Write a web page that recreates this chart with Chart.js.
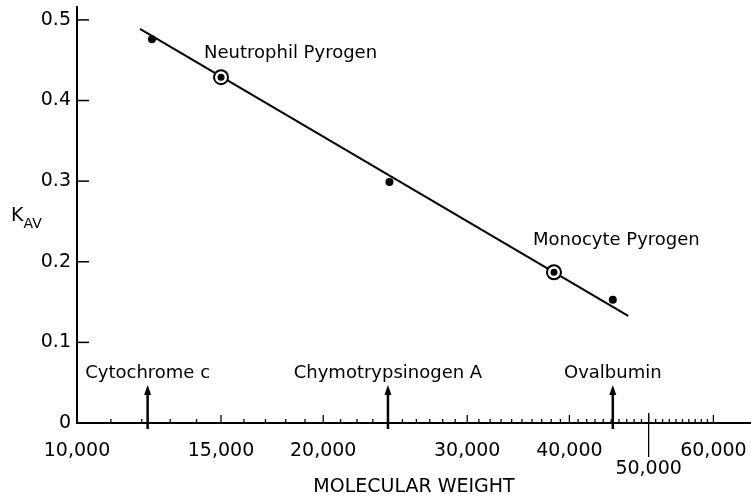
<!DOCTYPE html>
<html>
<head>
<meta charset="utf-8">
<script src="https://cdn.jsdelivr.net/npm/chart.js@4"></script>
<style>
  html, body { margin: 0; padding: 0; background: #fff; overflow: hidden; }
  #box { width: 751px; height: 498px; position: relative; }
</style>
</head>
<body>
<div id="box"><canvas id="grafico"></canvas></div>
<script>
// standards (filled dots + arrows on the axis)
const standardNames = ['Cytochrome c', 'Chymotrypsinogen A', 'Ovalbumin'];
const standardMW = [12350, 24100, 45200];
const standardKav = [0.476, 0.299, 0.153];
const arrowMW = [12200, 24000, 45200];

// pyrogens (ringed dots)
const pyrogenNames = ['Neutrophil Pyrogen', 'Monocyte Pyrogen'];
const pyrogenMW = [15000, 38300];
const pyrogenKav = [0.429, 0.187];
const pyrogenLabelMW = [14300, 36100];
const pyrogenLabelKav = [0.458, 0.227];

// fitted line end points
const fitMW = [11940, 47200];
const fitKav = [0.489, 0.133];

// axes
const xTickValues = [10000, 15000, 20000, 30000, 40000, 50000, 60000];
const xTickLabels = ['10,000', '15,000', '20,000', '30,000', '40,000', ['', '50,000'], '60,000'];
const yTickValues = [0, 0.1, 0.2, 0.3, 0.4, 0.5];
const yTickLabels = ['0', '0.1', '0.2', '0.3', '0.4', '0.5'];

const FONT = 'DejaVu Sans';

const toPts = (xs, ys) => xs.map((v, i) => ({ x: v, y: ys[i] }));

const annotate = {
  id: 'annotate',
  afterDraw(chart) {
    const ctx = chart.ctx;
    const x = chart.scales.x;
    const y = chart.scales.y;
    const base = y.getPixelForValue(0);
    const left = x.getPixelForValue(10000);
    ctx.save();
    ctx.strokeStyle = '#000';
    ctx.fillStyle = '#000';

    // x minor / major ticks (pointing up into the plot)
    ctx.lineWidth = 1.3;
    for (let v = 11000; v <= 60000; v += 1000) {
      const px = x.getPixelForValue(v);
      let len = 4;
      if (xTickValues.includes(v)) len = 8;
      ctx.beginPath();
      ctx.moveTo(px, base);
      ctx.lineTo(px, base - len);
      ctx.stroke();
    }
    // long tick under 50,000
    const p50 = x.getPixelForValue(50000);
    ctx.beginPath();
    ctx.moveTo(p50, base - 10);
    ctx.lineTo(p50, base + 34);
    ctx.stroke();

    // y ticks pointing right
    ctx.lineWidth = 1.5;
    yTickValues.forEach(v => {
      if (v === 0) return;
      const py = y.getPixelForValue(v);
      ctx.beginPath();
      ctx.moveTo(left, py);
      ctx.lineTo(left + 12, py);
      ctx.stroke();
    });

    // arrows + standard labels
    ctx.font = '18px ' + FONT;
    ctx.textAlign = 'center';
    ctx.textBaseline = 'middle';
    arrowMW.forEach((mw, i) => {
      const px = x.getPixelForValue(mw);
      const top = y.getPixelForValue(0.047);
      ctx.lineWidth = 2.5;
      ctx.beginPath();
      ctx.moveTo(px, top + 6);
      ctx.lineTo(px, base + 6);
      ctx.stroke();
      ctx.beginPath();
      ctx.moveTo(px, top);
      ctx.lineTo(px - 3.5, top + 10);
      ctx.lineTo(px + 3.5, top + 10);
      ctx.closePath();
      ctx.fill();
      ctx.fillText(standardNames[i], px, y.getPixelForValue(0.061));
    });

    // pyrogen labels
    ctx.textAlign = 'left';
    pyrogenNames.forEach((name, i) => {
      ctx.fillText(name, x.getPixelForValue(pyrogenLabelMW[i]), y.getPixelForValue(pyrogenLabelKav[i]));
    });

    // K_AV axis label
    ctx.textBaseline = 'alphabetic';
    ctx.font = '19px ' + FONT;
    ctx.fillText('K', 11, 221);
    const kw = ctx.measureText('K').width;
    ctx.font = '14px ' + FONT;
    ctx.fillText('AV', 11 + kw, 228);
    ctx.restore();
  }
};

new Chart(document.getElementById('grafico'), {
  type: 'scatter',
  data: {
    datasets: [
      {
        label: 'pyrogen core',
        data: toPts(pyrogenMW, pyrogenKav),
        pointRadius: 3.5,
        pointBackgroundColor: '#000',
        pointBorderWidth: 0,
        showLine: false
      },
      {
        label: 'pyrogen ring',
        data: toPts(pyrogenMW, pyrogenKav),
        pointRadius: 7,
        pointBackgroundColor: '#fff',
        pointBorderColor: '#000',
        pointBorderWidth: 2,
        showLine: false
      },
      {
        label: 'standards',
        data: toPts(standardMW, standardKav),
        pointRadius: 4,
        pointBackgroundColor: '#000',
        pointBorderWidth: 0,
        showLine: false
      },
      {
        label: 'fit',
        data: toPts(fitMW, fitKav),
        showLine: true,
        borderColor: '#000',
        borderWidth: 2,
        pointRadius: 0
      }
    ]
  },
  options: {
    responsive: true,
    maintainAspectRatio: false,
    animation: false,
    events: [],
    layout: { padding: 0, autoPadding: false },
    plugins: {
      legend: { display: false },
      tooltip: { enabled: false }
    },
    scales: {
      x: {
        type: 'logarithmic',
        min: 10000,
        max: 66700,
        afterBuildTicks: s => { s.ticks = xTickValues.map(v => ({ value: v })); },
        afterFit: s => { s.height = 75; s.paddingLeft = 0; s.paddingRight = 0; },
        grid: { display: false, drawTicks: false },
        border: { display: true, color: '#000', width: 2 },
        ticks: {
          autoSkip: false,
          maxRotation: 0,
          padding: 19,
          color: '#000',
          font: { family: FONT, size: 19, lineHeight: 0.95 },
          callback: (v, i) => xTickLabels[i]
        },
        title: {
          display: true,
          text: 'MOLECULAR WEIGHT',
          color: '#000',
          font: { family: FONT, size: 19, lineHeight: 1.2 },
          padding: { top: 0, bottom: 0 }
        }
      },
      y: {
        min: 0,
        max: 0.516,
        afterBuildTicks: s => { s.ticks = yTickValues.map(v => ({ value: v })); },
        afterFit: s => { s.width = 77; s.paddingTop = 7; s.paddingBottom = 0; },
        grid: { display: false, drawTicks: false },
        border: { display: true, color: '#000', width: 2 },
        ticks: {
          padding: 6,
          color: '#000',
          font: { family: FONT, size: 19 },
          callback: (v, i) => yTickLabels[i]
        }
      }
    }
  },
  plugins: [annotate]
});
</script>
</body>
</html>
